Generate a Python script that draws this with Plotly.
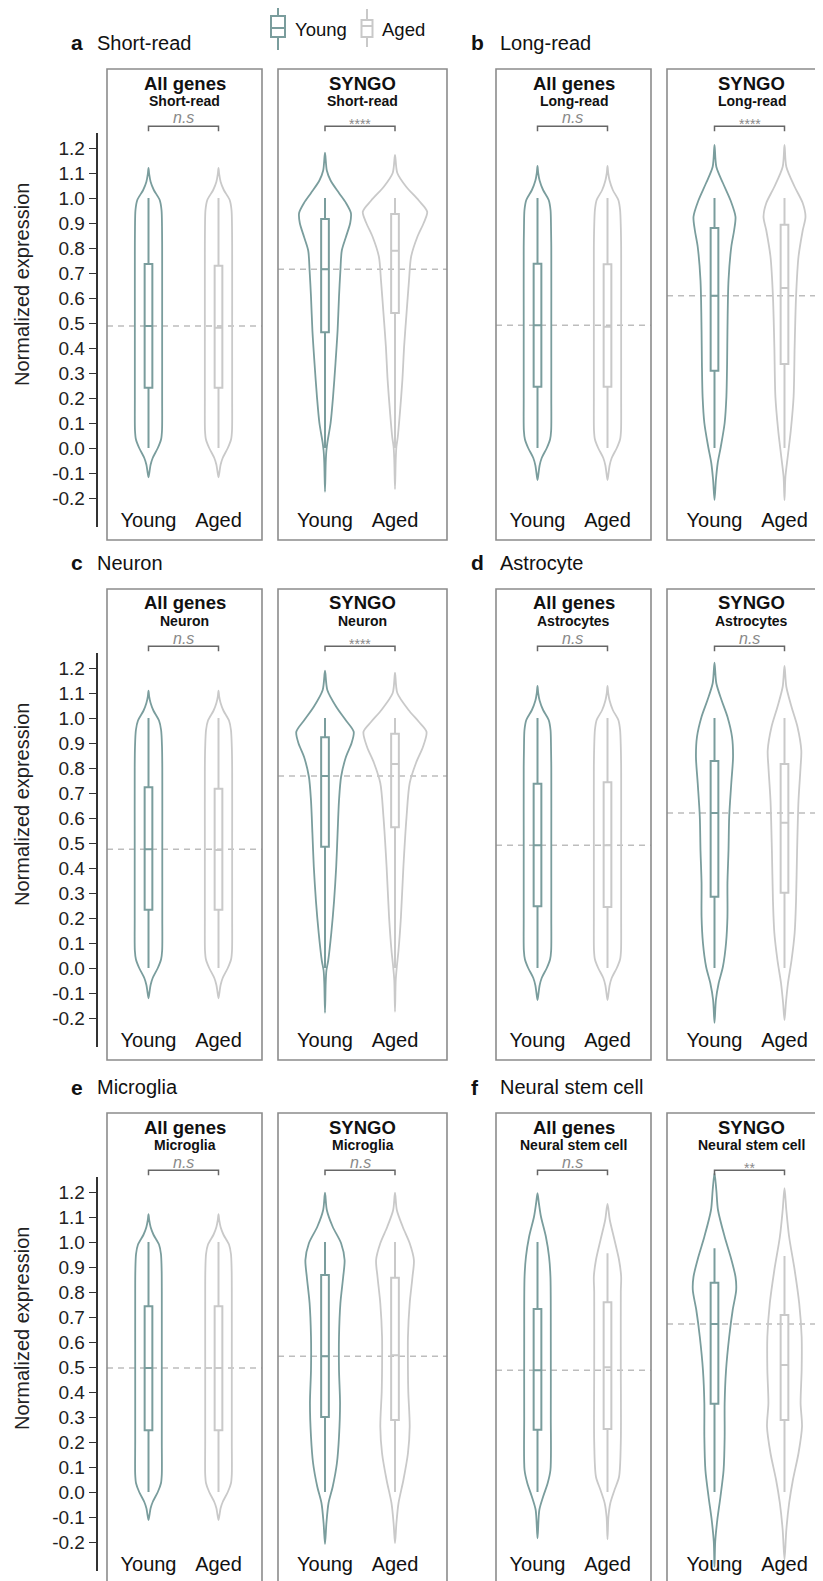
import plotly.graph_objects as go

# ---------------- data ----------------
groups = ["Young", "Aged"]
panel_letters = ["a", "b", "c", "d", "e", "f"]
panel_names = ["Short-read", "Long-read", "Neuron", "Astrocyte", "Microglia", "Neural stem cell"]
panel_subtitles = ["Short-read", "Long-read", "Neuron", "Astrocytes", "Microglia", "Neural stem cell"]
gene_sets = ["All genes", "SYNGO"]
significance = [["n.s", "****"], ["n.s", "****"], ["n.s", "****"],
                ["n.s", "n.s"], ["n.s", "n.s"], ["n.s", "**"]]
y_ticks = [-0.2, -0.1, 0.0, 0.1, 0.2, 0.3, 0.4, 0.5, 0.6, 0.7, 0.8, 0.9, 1.0, 1.1, 1.2]

# violin outlines: values (v) and half-widths (w, in category units)
a_all_young_v = [-0.117, -0.093, -0.067, -0.04, 0.0, 0.035, 0.07, 0.2, 0.5, 0.8, 0.885, 0.952, 0.992, 1.032, 1.065, 1.095, 1.12]
a_all_young_w = [0, 0.015, 0.03, 0.06, 0.133, 0.18, 0.193, 0.195, 0.195, 0.195, 0.193, 0.186, 0.16, 0.076, 0.03, 0.01, 0]
a_all_aged_v = [-0.117, -0.093, -0.067, -0.04, 0.0, 0.035, 0.07, 0.2, 0.5, 0.8, 0.885, 0.952, 0.992, 1.032, 1.065, 1.095, 1.12]
a_all_aged_w = [0, 0.015, 0.03, 0.06, 0.133, 0.18, 0.193, 0.195, 0.195, 0.195, 0.193, 0.186, 0.16, 0.076, 0.03, 0.01, 0]
a_syn_young_v = [-0.175, -0.06, -0.01, 0.02, 0.1, 0.205, 0.34, 0.47, 0.605, 0.71, 0.79, 0.845, 0.9, 0.94, 0.98, 1.02, 1.07, 1.11, 1.181]
a_syn_young_w = [0, 0.01, 0.02, 0.033, 0.08, 0.115, 0.15, 0.18, 0.2, 0.22, 0.24, 0.3, 0.36, 0.37, 0.3, 0.2, 0.08, 0.026, 0]
a_syn_aged_v = [-0.165, -0.05, 0.005, 0.045, 0.14, 0.27, 0.405, 0.54, 0.67, 0.765, 0.845, 0.9, 0.945, 0.99, 1.045, 1.1, 1.172]
a_syn_aged_w = [0, 0.01, 0.02, 0.04, 0.07, 0.105, 0.13, 0.165, 0.2, 0.23, 0.32, 0.41, 0.46, 0.34, 0.16, 0.033, 0]

b_all_young_v = [-0.128, -0.1, -0.07, -0.04, 0.0, 0.035, 0.07, 0.2, 0.5, 0.8, 0.885, 0.952, 0.992, 1.032, 1.07, 1.1, 1.128]
b_all_young_w = [0, 0.015, 0.03, 0.06, 0.133, 0.18, 0.195, 0.197, 0.197, 0.197, 0.193, 0.186, 0.16, 0.08, 0.03, 0.01, 0]
b_all_aged_v = [-0.128, -0.1, -0.07, -0.04, 0.0, 0.035, 0.07, 0.2, 0.5, 0.8, 0.885, 0.952, 0.992, 1.032, 1.07, 1.1, 1.128]
b_all_aged_w = [0, 0.015, 0.03, 0.06, 0.133, 0.18, 0.193, 0.195, 0.195, 0.195, 0.19, 0.18, 0.155, 0.076, 0.03, 0.01, 0]
b_syn_young_v = [-0.208, -0.128, -0.06, 0.005, 0.1, 0.205, 0.34, 0.47, 0.67, 0.805, 0.87, 0.925, 0.99, 1.06, 1.125, 1.212]
b_syn_young_w = [0, 0.02, 0.046, 0.09, 0.145, 0.17, 0.18, 0.185, 0.2, 0.24, 0.28, 0.3, 0.23, 0.12, 0.026, 0]
b_syn_aged_v = [-0.208, -0.115, -0.035, 0.07, 0.205, 0.405, 0.605, 0.765, 0.87, 0.925, 0.98, 1.045, 1.125, 1.212]
b_syn_aged_w = [0, 0.013, 0.046, 0.09, 0.13, 0.145, 0.165, 0.2, 0.26, 0.3, 0.26, 0.145, 0.026, 0]

c_all_young_v = [-0.121, -0.095, -0.068, -0.04, 0.0, 0.035, 0.07, 0.2, 0.5, 0.8, 0.885, 0.952, 0.99, 1.03, 1.06, 1.085, 1.109]
c_all_young_w = [0, 0.015, 0.03, 0.06, 0.133, 0.18, 0.195, 0.197, 0.197, 0.197, 0.193, 0.18, 0.15, 0.07, 0.03, 0.01, 0]
c_all_aged_v = [-0.121, -0.095, -0.068, -0.04, 0.0, 0.035, 0.07, 0.2, 0.5, 0.8, 0.885, 0.952, 0.99, 1.03, 1.06, 1.085, 1.109]
c_all_aged_w = [0, 0.015, 0.03, 0.06, 0.133, 0.18, 0.193, 0.195, 0.195, 0.195, 0.19, 0.178, 0.15, 0.07, 0.03, 0.01, 0]
c_syn_young_v = [-0.179, -0.06, -0.01, 0.03, 0.14, 0.27, 0.405, 0.54, 0.67, 0.765, 0.845, 0.9, 0.945, 0.99, 1.045, 1.112, 1.189]
c_syn_young_w = [0, 0.01, 0.02, 0.046, 0.09, 0.13, 0.16, 0.18, 0.2, 0.23, 0.3, 0.38, 0.41, 0.3, 0.16, 0.033, 0]
c_syn_aged_v = [-0.175, -0.05, 0.005, 0.07, 0.205, 0.405, 0.605, 0.74, 0.82, 0.885, 0.945, 0.985, 1.03, 1.1, 1.181]
c_syn_aged_w = [0, 0.01, 0.026, 0.05, 0.085, 0.12, 0.165, 0.21, 0.3, 0.4, 0.45, 0.34, 0.2, 0.033, 0]

d_all_young_v = [-0.128, -0.1, -0.07, -0.04, 0.0, 0.035, 0.07, 0.2, 0.5, 0.8, 0.885, 0.952, 0.992, 1.032, 1.07, 1.1, 1.128]
d_all_young_w = [0, 0.015, 0.03, 0.06, 0.133, 0.18, 0.195, 0.197, 0.197, 0.197, 0.193, 0.186, 0.16, 0.08, 0.03, 0.01, 0]
d_all_aged_v = [-0.128, -0.1, -0.07, -0.04, 0.0, 0.035, 0.07, 0.2, 0.5, 0.8, 0.885, 0.952, 0.992, 1.032, 1.07, 1.1, 1.128]
d_all_aged_w = [0, 0.015, 0.03, 0.06, 0.133, 0.18, 0.193, 0.195, 0.195, 0.195, 0.19, 0.18, 0.155, 0.076, 0.03, 0.01, 0]
d_syn_young_v = [-0.219, -0.128, -0.06, 0.005, 0.1, 0.205, 0.34, 0.47, 0.605, 0.74, 0.845, 0.925, 1.005, 1.072, 1.139, 1.221]
d_syn_young_w = [0, 0.02, 0.06, 0.12, 0.165, 0.185, 0.185, 0.2, 0.21, 0.24, 0.265, 0.25, 0.185, 0.1, 0.026, 0]
d_syn_aged_v = [-0.208, -0.14, -0.06, 0.03, 0.14, 0.27, 0.47, 0.67, 0.805, 0.87, 0.965, 1.045, 1.125, 1.208]
d_syn_aged_w = [0, 0.02, 0.05, 0.1, 0.145, 0.165, 0.18, 0.2, 0.23, 0.24, 0.185, 0.1, 0.026, 0]

e_all_young_v = [-0.112, -0.09, -0.065, -0.04, 0.0, 0.035, 0.07, 0.2, 0.5, 0.8, 0.885, 0.952, 0.99, 1.03, 1.06, 1.088, 1.111]
e_all_young_w = [0, 0.015, 0.03, 0.06, 0.133, 0.178, 0.19, 0.19, 0.19, 0.19, 0.188, 0.178, 0.15, 0.07, 0.03, 0.01, 0]
e_all_aged_v = [-0.112, -0.09, -0.065, -0.04, 0.0, 0.035, 0.07, 0.2, 0.5, 0.8, 0.885, 0.952, 0.99, 1.03, 1.06, 1.088, 1.111]
e_all_aged_w = [0, 0.015, 0.03, 0.06, 0.133, 0.178, 0.19, 0.19, 0.19, 0.19, 0.188, 0.178, 0.15, 0.07, 0.03, 0.01, 0]
e_syn_young_v = [-0.208, -0.125, -0.045, 0.021, 0.115, 0.221, 0.355, 0.488, 0.621, 0.755, 0.861, 0.928, 0.995, 1.061, 1.128, 1.197]
e_syn_young_w = [0, 0.02, 0.05, 0.11, 0.17, 0.2, 0.215, 0.2, 0.2, 0.22, 0.26, 0.28, 0.23, 0.11, 0.026, 0]
e_syn_aged_v = [-0.205, -0.125, -0.045, 0.048, 0.155, 0.261, 0.4, 0.488, 0.621, 0.755, 0.861, 0.928, 0.995, 1.061, 1.128, 1.197]
e_syn_aged_w = [0, 0.02, 0.05, 0.12, 0.185, 0.21, 0.19, 0.185, 0.185, 0.21, 0.25, 0.27, 0.21, 0.11, 0.026, 0]

f_all_young_v = [-0.185, -0.072, -0.019, 0.035, 0.088, 0.3, 0.6, 0.861, 0.941, 1.021, 1.101, 1.155, 1.195]
f_all_young_w = [0, 0.026, 0.08, 0.145, 0.185, 0.19, 0.19, 0.185, 0.165, 0.12, 0.05, 0.02, 0]
f_all_aged_v = [-0.189, -0.1, -0.045, 0.008, 0.061, 0.2, 0.5, 0.8, 0.861, 0.928, 1.008, 1.088, 1.152]
f_all_aged_w = [0, 0.013, 0.04, 0.1, 0.165, 0.19, 0.19, 0.19, 0.195, 0.165, 0.1, 0.033, 0]
f_syn_young_v = [-0.3, -0.2, -0.112, -0.019, 0.088, 0.221, 0.355, 0.488, 0.621, 0.728, 0.808, 0.861, 0.941, 1.021, 1.128, 1.208, 1.276]
f_syn_young_w = [0, 0.01, 0.04, 0.085, 0.13, 0.145, 0.145, 0.165, 0.21, 0.26, 0.31, 0.3, 0.23, 0.145, 0.05, 0.026, 0]
f_syn_aged_v = [-0.27, -0.152, -0.045, 0.048, 0.155, 0.261, 0.355, 0.488, 0.621, 0.755, 0.888, 1.021, 1.128, 1.215]
f_syn_aged_w = [0, 0.026, 0.066, 0.12, 0.2, 0.25, 0.23, 0.245, 0.245, 0.21, 0.145, 0.066, 0.026, 0]

# box statistics: [lower whisker, q1, median, q3, upper whisker]
a_all_young_box = [0.0, 0.241, 0.488, 0.736, 1.0]
a_all_aged_box = [0.0, 0.241, 0.481, 0.729, 1.0]
a_syn_young_box = [0.0, 0.463, 0.715, 0.916, 1.0]
a_syn_aged_box = [0.0, 0.540, 0.789, 0.936, 1.0]
b_all_young_box = [0.0, 0.245, 0.491, 0.737, 1.0]
b_all_aged_box = [0.0, 0.245, 0.485, 0.735, 1.0]
b_syn_young_box = [0.0, 0.309, 0.609, 0.880, 1.0]
b_syn_aged_box = [0.0, 0.336, 0.640, 0.893, 1.0]
c_all_young_box = [0.0, 0.233, 0.475, 0.723, 1.0]
c_all_aged_box = [0.0, 0.233, 0.472, 0.717, 1.0]
c_syn_young_box = [0.0, 0.485, 0.768, 0.923, 1.0]
c_syn_aged_box = [0.0, 0.563, 0.816, 0.937, 1.0]
d_all_young_box = [0.0, 0.247, 0.491, 0.737, 1.0]
d_all_aged_box = [0.0, 0.244, 0.491, 0.743, 1.0]
d_syn_young_box = [0.0, 0.285, 0.620, 0.828, 1.0]
d_syn_aged_box = [0.0, 0.301, 0.581, 0.816, 1.0]
e_all_young_box = [0.0, 0.247, 0.496, 0.743, 1.0]
e_all_aged_box = [0.0, 0.247, 0.496, 0.743, 1.0]
e_syn_young_box = [0.0, 0.300, 0.543, 0.868, 1.0]
e_syn_aged_box = [0.0, 0.288, 0.547, 0.857, 1.0]
f_all_young_box = [0.0, 0.249, 0.487, 0.732, 1.0]
f_all_aged_box = [0.0, 0.252, 0.499, 0.759, 0.955]
f_syn_young_box = [0.0, 0.353, 0.672, 0.837, 0.975]
f_syn_aged_box = [0.0, 0.288, 0.508, 0.708, 0.944]

# ---------------- assemble lookup table from the named lists ----------------
G = globals()
violins = {}
boxes = {}
for L in panel_letters:
    for s in ["all", "syn"]:
        for g in ["young", "aged"]:
            key = f"{L}_{s}_{g}"
            violins[key] = (G[key + "_v"], G[key + "_w"])
            boxes[key] = G[key + "_box"]

# ---------------- styling / geometry ----------------
PAGE_W, PAGE_H = 823, 1581
OFF = 8                       # default body margin of the html page
W, H = PAGE_W - OFF, PAGE_H - OFF
FONT = "Liberation Sans, Arial, Helvetica, sans-serif"
COLORS = {"young": "#7a9d9d", "aged": "#c9c9c9"}
FRAME_C = "#8c8c8c"
DASH_C = "#bdbdbd"
UNIT = 70.0          # px per category step
PXV = 250.0          # px per 1.0 of value
row_zero = [448, 968, 1492]
row_top = [69, 589, 1113]
row_bot = [540, 1060, 1584]
row_off = [0, 520, 1044]
col_x = [(107, 262), (278, 447), (496, 651), (667, 836)]
col_young_off = [41.5, 47.0, 41.5, 47.5]


def px(x):
    return (x - OFF) / W


def py(y):
    return 1 - (y - OFF) / H


def sfx(k):
    return "" if k == 1 else str(k)


fig = go.Figure()
layout = {}
shapes = []
annotations = []

for r in range(3):
    Z = row_zero[r]
    ro = row_off[r]
    for c in range(4):
        k = r * 4 + c + 1
        panel = 2 * r + (c // 2)
        L = panel_letters[panel]
        s = "all" if c % 2 == 0 else "syn"
        x0, x1 = col_x[c]
        x1c = min(x1, PAGE_W)
        off = col_young_off[c]
        ybot = min(row_bot[r], PAGE_H)
        xr, yr = "x" + sfx(k), "y" + sfx(k)
        layout["xaxis" + sfx(k)] = dict(domain=[px(x0), px(x1c)], range=[-off / UNIT, (x1c - x0 - off) / UNIT],
                                        anchor="free", position=py(Z + 58), showgrid=False, zeroline=False,
                                        showline=False, ticks="", tickvals=[0, 1], ticktext=groups,
                                        tickfont=dict(family=FONT, size=20, color="#111"), fixedrange=True)
        layout["yaxis" + sfx(k)] = dict(domain=[py(ybot), py(row_top[r])],
                                        range=[(Z - ybot) / PXV, (Z - row_top[r]) / PXV],
                                        anchor=xr, showgrid=False, zeroline=False, showline=False,
                                        showticklabels=False, ticks="", fixedrange=True)
        for gi, g in enumerate(["young", "aged"]):
            key = f"{L}_{s}_{g}"
            v, w = violins[key]
            xs = [gi + wi for wi in w] + [gi - wi for wi in w[-2:0:-1]] + [gi]
            ys = list(v) + list(v[-2:0:-1]) + [v[0]]
            fig.add_trace(go.Scatter(x=xs, y=ys, mode="lines", xaxis=xr, yaxis=yr,
                                     line=dict(color=COLORS[g], width=1.8, shape="spline", smoothing=0.8),
                                     hoverinfo="skip", showlegend=False))
            b = boxes[key]
            fig.add_trace(go.Box(x=[gi], lowerfence=[b[0]], q1=[b[1]], median=[b[2]], q3=[b[3]],
                                 upperfence=[b[4]], width=0.11, whiskerwidth=0, boxpoints=False,
                                 xaxis=xr, yaxis=yr, line=dict(color=COLORS[g], width=2),
                                 fillcolor="rgba(0,0,0,0)", hoverinfo="skip", showlegend=False))
        # dashed reference line at young median
        ymed = boxes[f"{L}_{s}_young"][2]
        shapes.append(dict(type="line", xref=xr + " domain", yref=yr, x0=0, x1=1, y0=ymed, y1=ymed,
                           line=dict(color=DASH_C, width=1.5, dash="6px,5px"), layer="below"))
        # frame
        shapes.append(dict(type="rect", xref="paper", yref="paper", x0=px(x0), x1=px(x1),
                           y0=py(row_bot[r]), y1=py(row_top[r]),
                           line=dict(color=FRAME_C, width=1.6), fillcolor="rgba(0,0,0,0)"))
        # significance bracket
        shapes.append(dict(type="path", xref=xr, yref=yr,
                           path="M 0,1.267 L 0,1.287 L 1,1.287 L 1,1.267",
                           line=dict(color="#666", width=1.5)))
        sig = significance[panel][c % 2]
        if sig == "n.s":
            annotations.append(dict(text="<i>n.s</i>", x=0.5, xref=xr, y=py(118 + ro), yref="paper",
                                    showarrow=False, xanchor="center", yanchor="middle",
                                    font=dict(family=FONT, size=16, color="#8a8a8a")))
        else:
            annotations.append(dict(text=sig, x=0.5, xref=xr, y=py(124 + ro), yref="paper",
                                    showarrow=False, xanchor="center", yanchor="middle",
                                    font=dict(family=FONT, size=14, color="#8a8a8a")))
        cx = (x0 + x1) / 2
        annotations.append(dict(text=f"<b>{gene_sets[c % 2]}</b>", x=px(cx), y=py(83 + ro),
                                xref="paper", yref="paper", showarrow=False,
                                xanchor="center", yanchor="middle",
                                font=dict(family=FONT, size=18.5, color="#111")))
        annotations.append(dict(text=f"<b>{panel_subtitles[panel]}</b>", x=px(cx), y=py(101 + ro),
                                xref="paper", yref="paper", showarrow=False,
                                xanchor="center", yanchor="middle",
                                font=dict(family=FONT, size=14, color="#111")))

    # row tick axis (shared value axis on the left)
    kx = 13 + r
    layout[f"xaxis{kx}"] = dict(domain=[px(97.5), px(98.5)], range=[0, 1], visible=False, fixedrange=True)
    layout[f"yaxis{kx}"] = dict(domain=[py(Z + 79), py(Z - 315)], range=[-79 / PXV, 315 / PXV],
                                anchor=f"x{kx}", showline=True, linecolor="#333", linewidth=1.5,
                                ticks="outside", ticklen=7, tickwidth=1.3, tickcolor="#333",
                                tickvals=y_ticks, ticktext=[f"{t:.1f}" for t in y_ticks],
                                tickfont=dict(family=FONT, size=19, color="#222"),
                                showgrid=False, zeroline=False, fixedrange=True)
    fig.add_trace(go.Scatter(x=[None], y=[None], xaxis=f"x{kx}", yaxis=f"y{kx}",
                             showlegend=False, hoverinfo="skip"))
    annotations.append(dict(text="Normalized expression", textangle=-90, x=px(22), y=py(285 + ro),
                            xref="paper", yref="paper", showarrow=False,
                            xanchor="center", yanchor="middle",
                            font=dict(family=FONT, size=20, color="#222")))
    # row panel labels
    for side in range(2):
        panel = 2 * r + side
        lx, tx = (69, 95) if side == 0 else (469, 498)
        annotations.append(dict(text=f"<b>{panel_letters[panel]}</b>", x=px(lx), y=py(43 + ro),
                                xref="paper", yref="paper", xanchor="left", yanchor="middle",
                                showarrow=False, font=dict(family=FONT, size=21, color="#111")))
        annotations.append(dict(text=panel_names[panel], x=px(tx), y=py(43 + ro),
                                xref="paper", yref="paper", xanchor="left", yanchor="middle",
                                showarrow=False, font=dict(family=FONT, size=20, color="#111")))

# legend glyphs
for gi, (lx, bw, ytop, ybot2, btop, bbot, med, tx) in enumerate(
        [(278, 7, 8, 50, 16, 37, 28, 293), (367, 5.5, 9, 47, 20, 37, 26, 380)]):
    col = COLORS["young"] if gi == 0 else COLORS["aged"]
    shapes.append(dict(type="line", xref="paper", yref="paper", x0=px(lx), x1=px(lx),
                       y0=py(ybot2), y1=py(ytop), line=dict(color=col, width=2)))
    shapes.append(dict(type="rect", xref="paper", yref="paper", x0=px(lx - bw), x1=px(lx + bw),
                       y0=py(bbot), y1=py(btop), line=dict(color=col, width=2), fillcolor="white"))
    shapes.append(dict(type="line", xref="paper", yref="paper", x0=px(lx - bw), x1=px(lx + bw),
                       y0=py(med), y1=py(med), line=dict(color=col, width=2)))
    annotations.append(dict(text=groups[gi], x=px(tx), y=py(29), xref="paper", yref="paper",
                            xanchor="left", yanchor="middle", showarrow=False,
                            font=dict(family=FONT, size=18.5, color="#111")))

fig.update_layout(width=W, height=H, margin=dict(l=0, r=0, t=0, b=0),
                  paper_bgcolor="white", plot_bgcolor="rgba(0,0,0,0)",
                  boxmode="overlay", showlegend=False, shapes=shapes, annotations=annotations,
                  font=dict(family=FONT), **layout)

fig.write_html("out.html")
